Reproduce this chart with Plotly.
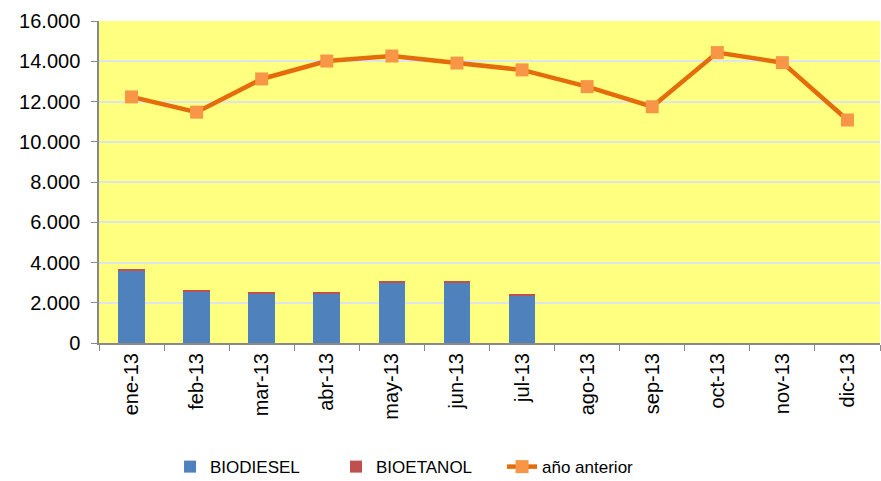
import plotly.graph_objects as go

# Monthly categories (Spanish abbreviations)
months = ["ene-13", "feb-13", "mar-13", "abr-13", "may-13", "jun-13",
          "jul-13", "ago-13", "sep-13", "oct-13", "nov-13", "dic-13"]

# Current-year volumes (only Jan–Jul available)
biodiesel = [3610, 2570, 2435, 2435, 3030, 3030, 2380, None, None, None, None, None]
bioetanol = [50, 65, 50, 50, 50, 50, 70, None, None, None, None, None]

# Previous-year totals
anio_anterior = [12230, 11470, 13120, 14010, 14260, 13910,
                 13570, 12740, 11740, 14430, 13930, 11080]

y_ticks = [0, 2000, 4000, 6000, 8000, 10000, 12000, 14000, 16000]
y_tick_labels = ["0", "2.000", "4.000", "6.000", "8.000", "10.000",
                 "12.000", "14.000", "16.000"]

font_family = "Liberation Sans, Arial, sans-serif"

fig = go.Figure()
fig.add_trace(go.Bar(
    x=months, y=biodiesel, name="BIODIESEL",
    marker=dict(color="#4F81BD", line=dict(width=0)),
))
fig.add_trace(go.Bar(
    x=months, y=bioetanol, name="BIOETANOL",
    marker=dict(color="#C0504D", line=dict(width=0)),
))
fig.add_trace(go.Scatter(
    x=months, y=anio_anterior, name="año anterior",
    mode="lines+markers",
    line=dict(color="#E46C0A", width=4.5),
    marker=dict(symbol="square", size=13, color="#F79646", line=dict(width=0)),
))

fig.update_layout(
    width=881, height=481,
    margin=dict(l=99, r=1, t=21, b=138, autoexpand=False),
    paper_bgcolor="white",
    plot_bgcolor="#FFFF80",
    barmode="stack",
    bargap=0.59,
    font=dict(family=font_family, size=18, color="#000000"),
    showlegend=True,
    legend=dict(
        orientation="h",
        xref="container", yref="container",
        x=0.193, xanchor="left",
        y=0.029, yanchor="middle",
        font=dict(size=17),
        traceorder="normal",
        entrywidth=121,
        bgcolor="rgba(0,0,0,0)",
    ),
)

fig.update_xaxes(
    type="category",
    range=[-0.5, 11.5],
    tickangle=-90,
    showgrid=False,
    showline=True, linecolor="#898989", linewidth=2,
    ticks="outside", tickson="boundaries", ticklen=6, tickcolor="#898989",
    tickfont=dict(size=20),
)
# Major ticks are invisible and only push the labels away from the axis;
# the visible short ticks are drawn as minor ticks at the same values.
fig.update_yaxes(
    range=[0, 16000],
    tickvals=y_ticks, ticktext=y_tick_labels,
    showgrid=True, gridcolor="#DCE4EC", gridwidth=2,
    zeroline=False,
    showline=True, linecolor="#898989", linewidth=1.5,
    ticks="outside", ticklen=13, tickcolor="rgba(0,0,0,0)",
    minor=dict(tickvals=y_ticks, ticks="outside", ticklen=6,
               tickcolor="#898989", showgrid=False),
    tickfont=dict(size=20),
)

fig.write_html("out.html")
